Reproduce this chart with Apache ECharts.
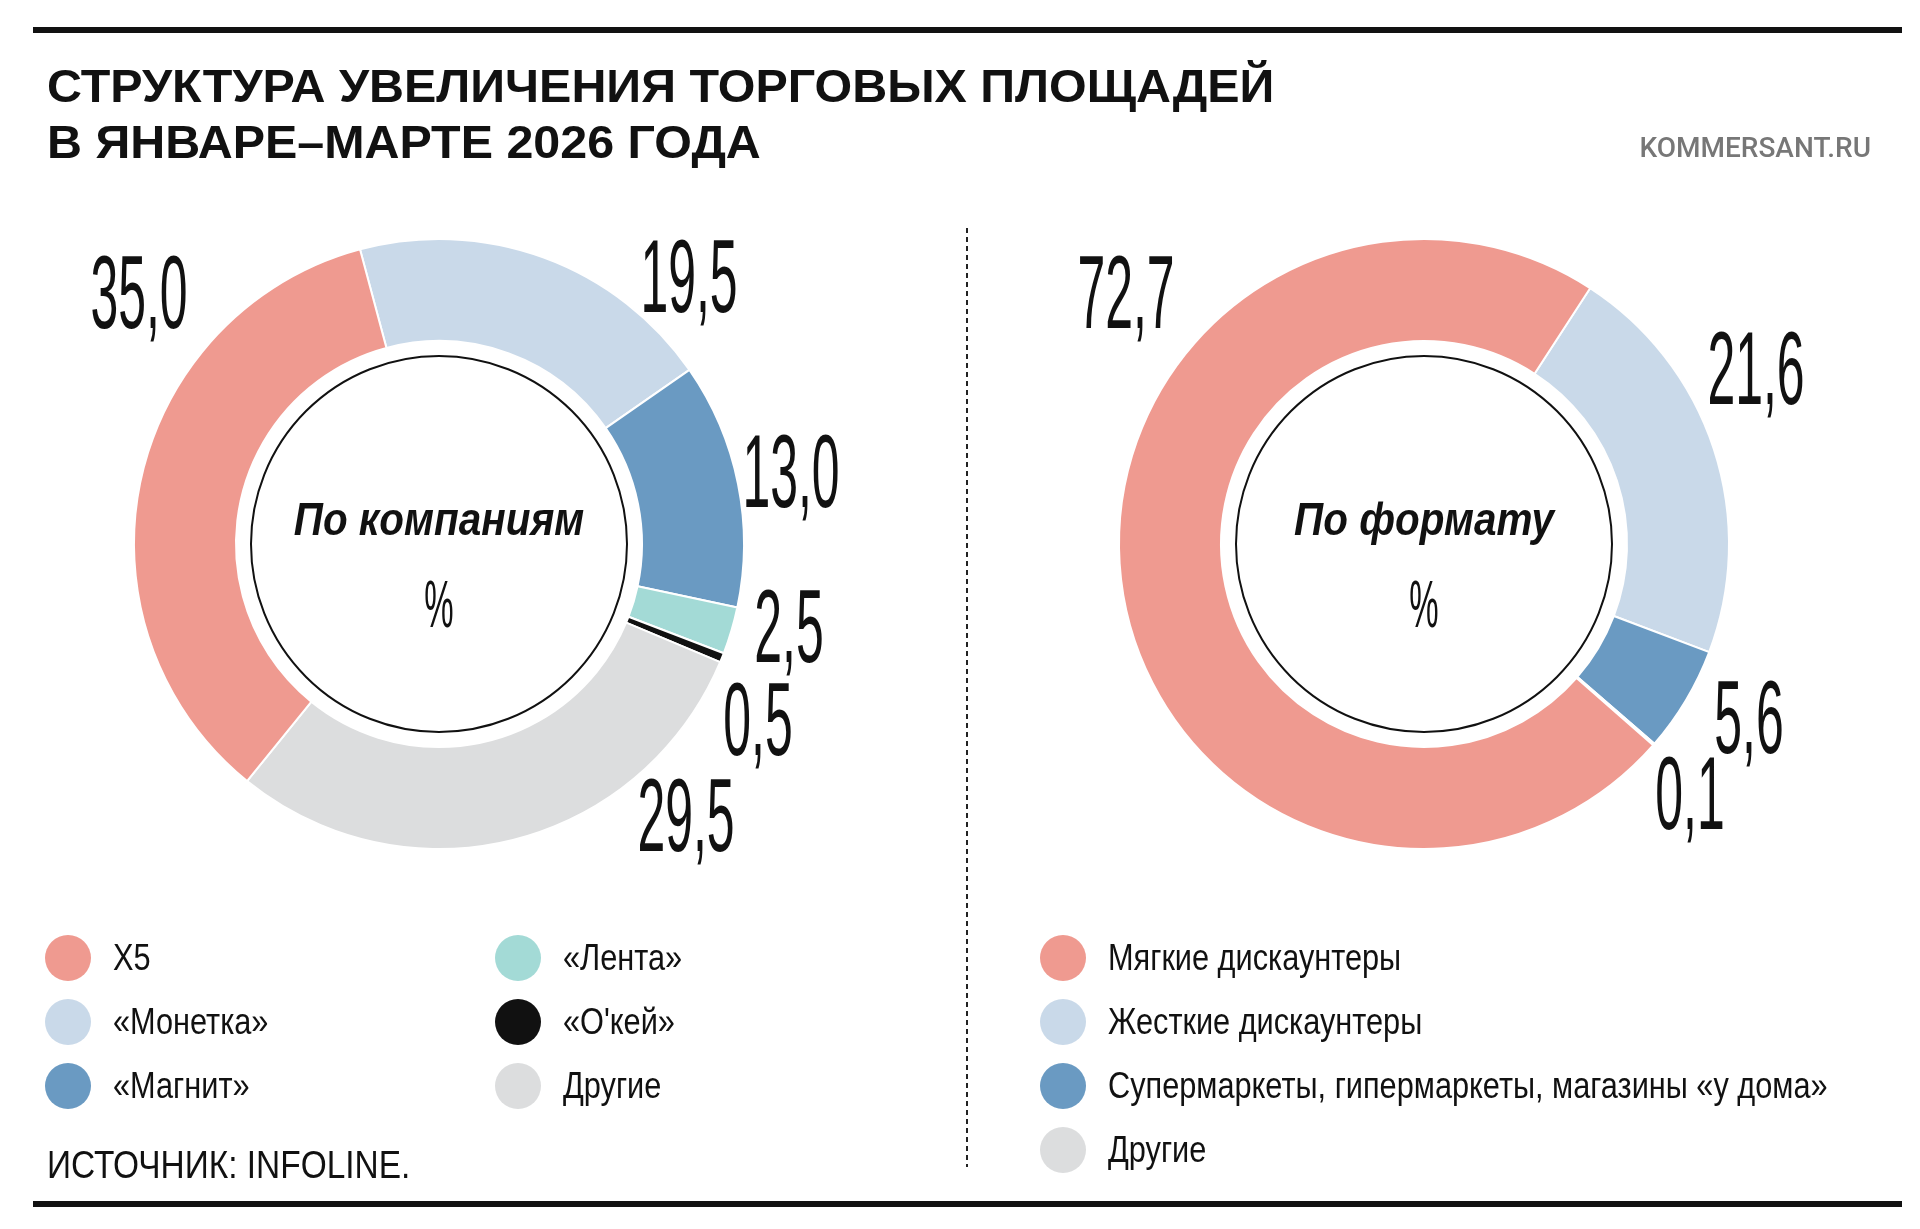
<!DOCTYPE html>
<html><head><meta charset="utf-8">
<script src="https://cdn.jsdelivr.net/npm/echarts@6/dist/echarts.min.js"></script>
<style>html,body{margin:0;background:#fff}#c{width:1920px;height:1229px}</style>
</head><body><div id="c"></div>
<script>
// data
var companyNames = ['«Монетка»', '«Магнит»', '«Лента»', '«О\'кей»', 'Другие', 'X5']
var companyValues = [19.5, 13.0, 2.5, 0.5, 29.5, 35.0]
var companyColors = ['#C9D9E9', '#6A9AC2', '#A3DAD6', '#111111', '#DCDDDE', '#EF9A90']
var formatNames = ['Жесткие дискаунтеры', 'Супермаркеты, гипермаркеты, магазины «у дома»', 'Другие', 'Мягкие дискаунтеры']
var formatValues = [21.6, 5.6, 0.1, 72.7]
var formatColors = ['#C9D9E9', '#6A9AC2', '#DCDDDE', '#EF9A90']

var companyLabelPos = [[689, 283], [791, 478], [789, 633], [758, 726], [686, 822], [139, 299]]
var formatLabelPos = [[1756, 375], [1749, 724], [1690, 800], [1126, 299]]

var font = '"Liberation Sans", sans-serif'
var fmt = function (v) { return v.toFixed(1).replace('.', ',') }

var graphic = []
// rules
graphic.push({ type: 'rect', shape: { x: 33, y: 27, width: 1869, height: 6 }, style: { fill: '#111' } })
graphic.push({ type: 'rect', shape: { x: 33, y: 1201, width: 1869, height: 6 }, style: { fill: '#111' } })
graphic.push({ type: 'line', shape: { x1: 967, y1: 228, x2: 967, y2: 1167 }, style: { stroke: '#222', lineWidth: 2, lineDash: [5, 4] } })
// titles
graphic.push({ type: 'text', x: 47, y: 89, scaleX: 1.03, style: { text: 'СТРУКТУРА УВЕЛИЧЕНИЯ ТОРГОВЫХ ПЛОЩАДЕЙ', font: '900 47px ' + font, fill: '#111', verticalAlign: 'middle' } })
graphic.push({ type: 'text', x: 47, y: 145, scaleX: 1.03, style: { text: 'В ЯНВАРЕ–МАРТЕ 2026 ГОДА', font: '900 47px ' + font, fill: '#111', verticalAlign: 'middle' } })
graphic.push({ type: 'text', x: 1871, y: 150, style: { text: 'KOMMERSANT.RU', font: '500 28px "Roboto", sans-serif', fill: '#777', align: 'right', verticalAlign: 'middle' } })
graphic.push({ type: 'text', x: 47, y: 1168, scaleX: 0.88, style: { text: 'ИСТОЧНИК: INFOLINE.', font: '38px ' + font, fill: '#111', verticalAlign: 'middle' } })

// inner circles and center texts
;[[439, 'По компаниям'], [1424, 'По формату']].forEach(function (c) {
  graphic.push({ type: 'circle', shape: { cx: c[0], cy: 544, r: 188 }, style: { fill: '#fff', stroke: '#111', lineWidth: 2 } })
  graphic.push({ type: 'text', x: c[0], y: 522, scaleX: 0.88, style: { text: c[1], font: 'italic bold 46px ' + font, fill: '#111', align: 'center', verticalAlign: 'middle' } })
  graphic.push({ type: 'text', x: c[0], y: 609, scaleX: 0.5, style: { text: '%', font: '66px ' + font, fill: '#111', align: 'center', verticalAlign: 'middle' } })
})

// value labels
function addLabels(vals, pos) {
  vals.forEach(function (v, i) {
    graphic.push({ type: 'text', x: pos[i][0], y: pos[i][1], scaleX: 0.48, style: { text: fmt(v), font: '104px ' + font, fill: '#111', align: 'center', verticalAlign: 'middle' } })
  })
}
addLabels(companyValues, companyLabelPos)
addLabels(formatValues, formatLabelPos)

// legends
function addLegend(items, x, y0) {
  items.forEach(function (it, i) {
    var y = y0 + i * 64
    graphic.push({ type: 'circle', shape: { cx: x, cy: y, r: 23 }, style: { fill: it[1] } })
    graphic.push({ type: 'text', x: x + 45, y: y + 2, scaleX: 0.83, style: { text: it[0], font: '37px ' + font, fill: '#111', verticalAlign: 'middle' } })
  })
}
addLegend([['X5', companyColors[5]], [companyNames[0], companyColors[0]], [companyNames[1], companyColors[1]]], 68, 958)
addLegend([[companyNames[2], companyColors[2]], [companyNames[3], companyColors[3]], [companyNames[4], companyColors[4]]], 518, 958)
addLegend([[formatNames[3], formatColors[3]], [formatNames[0], formatColors[0]], [formatNames[1], formatColors[1]], [formatNames[2], formatColors[2]]], 1063, 958)

function pieSeries(names, values, colors, cx, start) {
  return {
    type: 'pie', center: [cx, 544], radius: [203, 305], startAngle: start, clockwise: true,
    label: { show: false }, labelLine: { show: false }, silent: true, animation: false,
    itemStyle: { borderColor: '#fff', borderWidth: 2 },
    data: names.map(function (n, i) { return { name: n, value: values[i], itemStyle: { color: colors[i] } } })
  }
}

var chart = echarts.init(document.getElementById('c'))
chart.setOption({
  backgroundColor: '#fff',
  series: [
    pieSeries(companyNames, companyValues, companyColors, 439, 105),
    pieSeries(formatNames, formatValues, formatColors, 1424, 57)
  ],
  graphic: graphic
})
</script></body></html>
